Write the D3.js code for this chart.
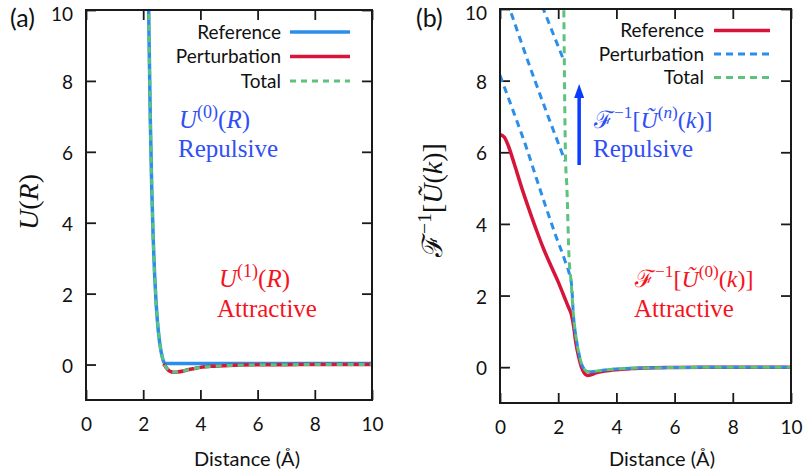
<!DOCTYPE html>
<html><head><meta charset="utf-8">
<script src="https://cdn.jsdelivr.net/npm/d3@7"></script>
<style>body{margin:0;background:#fff} svg{display:block}</style>
</head><body><svg id="c" width="805" height="472"></svg>
<script>
// ---------- data ----------
const xTicks = [0, 2, 4, 6, 8, 10];
const yTicks = [0, 2, 4, 6, 8, 10];
const legendLabels = ["Reference", "Perturbation", "Total"];
const xTitle = "Distance (Å)";

// Panel (a)
const refA_R  = [2.15, 2.20, 2.25, 2.30, 2.35, 2.40, 2.45, 2.50, 2.55, 2.60, 2.65, 2.70, 2.75, 2.80, 4, 6, 8, 10];
const refA_U  = [13.0, 9.45, 6.85, 4.94, 3.54, 2.52, 1.76, 1.20, 0.79, 0.49, 0.27, 0.11, 0.04, 0.03, 0.03, 0.03, 0.03, 0.03];
const pertA_R = [2.71, 2.75, 2.8, 2.9, 3.0, 3.1, 3.2, 3.4, 3.6, 3.8, 4.0, 4.5, 5, 6, 7, 8, 10];
const pertA_U = [0.02, -0.02, -0.08, -0.17, -0.21, -0.22, -0.21, -0.18, -0.14, -0.11, -0.08, -0.045, -0.025, -0.008, -0.003, -0.001, 0];
const totA_R  = [2.15, 2.20, 2.25, 2.30, 2.35, 2.40, 2.45, 2.50, 2.55, 2.60, 2.65, 2.70, 2.75, 2.8, 2.9, 3.0, 3.1, 3.2, 3.4, 3.6, 3.8, 4.0, 4.5, 5, 6, 7, 8, 10];
const totA_U  = [13.0, 9.45, 6.85, 4.94, 3.54, 2.52, 1.76, 1.20, 0.79, 0.49, 0.27, 0.11, -0.02, -0.08, -0.17, -0.21, -0.22, -0.21, -0.18, -0.14, -0.11, -0.08, -0.045, -0.025, -0.008, -0.003, -0.001, 0];

// Panel (b)
const refB_R  = [0, 0.15, 0.3, 0.5, 0.75, 1.0, 1.25, 1.5, 1.75, 2.0, 2.2, 2.35, 2.46, 2.52, 2.6, 2.7, 2.8, 2.9, 3.0, 3.1, 3.3, 3.6, 4.0, 4.5, 5, 6, 7, 8, 10];
const refB_U  = [6.5, 6.42, 6.15, 5.65, 5.0, 4.4, 3.83, 3.3, 2.83, 2.38, 1.98, 1.68, 1.45, 1.2, 0.72, 0.3, 0.0, -0.17, -0.23, -0.22, -0.16, -0.11, -0.07, -0.04, -0.02, -0.01, -0.004, -0.002, 0];
const pertB1_R = [0, 0.5, 0.92, 1.2, 1.54, 1.89, 2.23, 2.4, 2.46, 2.52, 2.63, 2.72, 2.8, 2.9, 3.0, 3.1, 3.3, 3.6, 4.0, 4.5, 5, 6, 7, 8, 10];
const pertB1_U = [8.15, 7.05, 6.1, 5.4, 4.56, 3.73, 2.98, 2.55, 2.3, 1.49, 0.75, 0.35, 0.1, -0.06, -0.12, -0.13, -0.11, -0.08, -0.05, -0.03, -0.02, -0.01, -0.004, -0.002, 0];
const pertB2_R = [0.25, 1.2, 2.24];
const pertB2_U = [10.2, 8.0, 5.75];
const pertB3_R = [1.45, 2.2];
const pertB3_U = [10.08, 8.55];
const totB_R  = [2.19, 2.21, 2.25, 2.3, 2.37, 2.44, 2.52, 2.63, 2.72, 2.8, 2.9, 3.0, 3.1, 3.3, 3.6, 4.0, 4.5, 5, 6, 7, 8, 10];
const totB_U  = [10.3, 8.55, 5.9, 5.0, 3.1, 2.42, 1.49, 0.75, 0.35, 0.1, -0.06, -0.12, -0.13, -0.11, -0.08, -0.05, -0.03, -0.02, -0.01, -0.004, -0.002, 0];

// ---------- styles ----------
const BLUE = "#2a8fea", RED = "#d7153b", GREEN = "#5cc27c";
const TXT_BLUE = "#2f4ff5", TXT_RED = "#f5141e", ARROW = "#0a3cff";
const SANS = "Lato, 'Open Sans', sans-serif";
const SERIF = "'Liberation Serif', 'DejaVu Serif', serif";
const SCRIPT = "'DejaVu Serif', serif";

const svg = d3.select("#c");

function zip(xs, ys) { return xs.map((x, i) => [x, ys[i]]); }

function panel(cfg) {
  const x = d3.scaleLinear().domain([0, 10]).range([cfg.left, cfg.right]);
  const y = d3.scaleLinear().domain([-1, 10]).range([cfg.bottom, cfg.top]);
  const g = svg.append("g");
  const clipId = "clip" + cfg.id;
  svg.append("clipPath").attr("id", clipId).append("rect")
    .attr("x", cfg.left).attr("y", cfg.top)
    .attr("width", cfg.right - cfg.left).attr("height", cfg.bottom - cfg.top);

  const tickLen = 10;
  const styleAxis = sel => {
    sel.select(".domain").remove();
    sel.selectAll(".tick line").attr("stroke", "#1a1a1a").attr("stroke-width", 1.8);
    sel.selectAll(".tick text").attr("font-family", SANS).attr("font-size", 19).attr("fill", "#111");
  };
  g.append("g").attr("transform", `translate(0,${cfg.bottom})`)
    .call(d3.axisBottom(x).tickValues(xTicks).tickFormat(d3.format("d")).tickSize(-tickLen).tickPadding(18).tickSizeOuter(0))
    .call(styleAxis);
  g.append("g").attr("transform", `translate(0,${cfg.top})`)
    .call(d3.axisTop(x).tickValues(xTicks).tickFormat("").tickSize(-tickLen).tickSizeOuter(0))
    .call(styleAxis);
  const yAx = g.append("g").attr("transform", `translate(${cfg.left},0)`)
    .call(d3.axisLeft(y).tickValues(yTicks).tickFormat(d3.format("d")).tickSize(-tickLen).tickPadding(13).tickSizeOuter(0))
    .call(styleAxis);
  yAx.selectAll(".tick text").attr("dy", d => d === 10 ? "0.55em" : "0.4em");
  g.append("g").attr("transform", `translate(${cfg.right},0)`)
    .call(d3.axisRight(y).tickValues(yTicks).tickFormat("").tickSize(-tickLen).tickSizeOuter(0))
    .call(styleAxis);

  const line = d3.line().x(d => x(d[0])).y(d => y(d[1])).curve(d3.curveMonotoneX);
  const lines = g.append("g").attr("clip-path", `url(#${clipId})`);
  cfg.series.forEach(s => {
    s.data.forEach(d => {
      lines.append("path").attr("d", line(d))
        .attr("fill", "none").attr("stroke", s.color)
        .attr("stroke-width", s.width)
        .attr("stroke-dasharray", s.dash || null)
        .attr("stroke-linejoin", "round");
    });
  });

  g.append("rect").attr("x", cfg.left).attr("y", cfg.top)
    .attr("width", cfg.right - cfg.left).attr("height", cfg.bottom - cfg.top)
    .attr("fill", "none").attr("stroke", "#1a1a1a").attr("stroke-width", 2);

  // legend
  cfg.legend.forEach((s, i) => {
    const ly = cfg.legY + i * cfg.legStep;
    g.append("text").attr("x", cfg.legTextX).attr("y", ly).attr("dy", "0.35em")
      .attr("text-anchor", "end").attr("font-family", SANS).attr("font-size", 19)
      .attr("fill", "#111").text(legendLabels[i]);
    g.append("line").attr("x1", cfg.legX1).attr("x2", cfg.legX2).attr("y1", ly).attr("y2", ly)
      .attr("stroke", s.color).attr("stroke-width", s.width).attr("stroke-dasharray", s.dash || null);
  });

  // x title
  g.append("text").attr("x", cfg.xTitleX).attr("y", 466).attr("text-anchor", "middle")
    .attr("font-family", SANS).attr("font-size", 20).attr("fill", "#111").text(xTitle);
  // panel label
  g.append("text").attr("x", cfg.labX).attr("y", 27).attr("font-family", SANS)
    .attr("font-size", 25).attr("fill", "#111").text(cfg.label);
  return {x, y, g};
}

// math text helper: parts = [text, italic?, shift(em), sizeFactor, family]
function mathText(parent, x, y, size, color, parts, anchor) {
  const t = parent.append("text").attr("x", x).attr("y", y)
    .attr("font-family", SERIF).attr("font-size", size).attr("fill", color)
    .attr("text-anchor", anchor || "start");
  let cur = 0;
  parts.forEach(p => {
    const shift = p[2] || 0;
    const ts = t.append("tspan").text(p[0])
      .attr("font-style", p[1] ? "italic" : "normal")
      .attr("dy", (cur - shift) * size);
    if (p[3]) ts.attr("font-size", p[3] * size);
    if (p[4]) ts.attr("font-family", p[4]);
    cur = shift;
  });
  return t;
}
const SUP = 0.42, SUPS = 0.72;

// ---------- panel (a) ----------
const A = panel({
  id: "a", left: 86, right: 372, top: 10, bottom: 400,
  label: "(a)", labX: 10, xTitleX: 247,
  legY: 32, legStep: 24.5, legTextX: 281, legX1: 290, legX2: 350,
  series: [
    {color: BLUE, width: 3.5, data: [zip(refA_R, refA_U)]},
    {color: RED, width: 3.5, data: [zip(pertA_R, pertA_U)]},
    {color: GREEN, width: 3, dash: "6,5", data: [zip(totA_R, totA_U)]}
  ],
  legend: [{color: BLUE, width: 3.5}, {color: RED, width: 3.5}, {color: GREEN, width: 3, dash: "6,5"}]
});

// y title (a)
mathText(svg.append("g").attr("transform", "translate(38,202) rotate(-90)"), 0, 0, 28, "#111",
  [["U", true], ["(", false], ["R", true], [")", false]], "middle");

mathText(svg, 179, 128, 25, TXT_BLUE, [["U", true], ["(0)", false, SUP, SUPS], ["(", false, 0], ["R", true], [")", false]]);
svg.append("text").attr("x", 178).attr("y", 157).attr("font-family", SERIF).attr("font-size", 25)
  .attr("fill", TXT_BLUE).text("Repulsive");
mathText(svg, 219, 287, 25, TXT_RED, [["U", true], ["(1)", false, SUP, SUPS], ["(", false, 0], ["R", true], [")", false]]);
svg.append("text").attr("x", 217).attr("y", 317).attr("font-family", SERIF).attr("font-size", 25)
  .attr("fill", TXT_RED).text("Attractive");

// ---------- panel (b) ----------
const B = panel({
  id: "b", left: 500, right: 791, top: 9, bottom: 403,
  label: "(b)", labX: 416, xTitleX: 662,
  legY: 30.5, legStep: 23.5, legTextX: 704, legX1: 714, legX2: 770,
  series: [
    {color: RED, width: 3.5, data: [zip(refB_R, refB_U)]},
    {color: BLUE, width: 3, dash: "7,5", data: [zip(pertB1_R, pertB1_U), zip(pertB2_R, pertB2_U), zip(pertB3_R, pertB3_U)]},
    {color: GREEN, width: 3, dash: "7,5", data: [zip(totB_R, totB_U)]}
  ],
  legend: [{color: RED, width: 3.5}, {color: BLUE, width: 3, dash: "7,5"}, {color: GREEN, width: 3, dash: "7,5"}]
});

// y title (b)
mathText(svg.append("g").attr("transform", "translate(442,200) rotate(-90)"), 0, 0, 28, "#111",
  [["ℱ", false, 0, 1, SCRIPT], ["−1", false, 0.4, 0.7], ["[", false, 0], ["Ũ", true], ["(", false], ["k", true], [")]", false]], "middle");

// arrow
const arrowX = B.x(2.72);
svg.append("line").attr("x1", arrowX).attr("x2", arrowX).attr("y1", 165).attr("y2", 96)
  .attr("stroke", ARROW).attr("stroke-width", 3.5);
svg.append("path").attr("d", `M${arrowX},84 L${arrowX - 5},98 L${arrowX + 5},98 Z`).attr("fill", ARROW);

mathText(svg, 594, 128, 24, TXT_BLUE,
  [["ℱ", false, 0, 1, SCRIPT], ["−1", false, SUP, SUPS], ["[", false, 0], ["Ũ", true], ["(", false, SUP, SUPS], ["n", true, SUP, SUPS], [")", false, SUP, SUPS], ["(", false, 0], ["k", true], [")]", false]]);
svg.append("text").attr("x", 593).attr("y", 157).attr("font-family", SERIF).attr("font-size", 25)
  .attr("fill", TXT_BLUE).text("Repulsive");
mathText(svg, 635, 287, 24, TXT_RED,
  [["ℱ", false, 0, 1, SCRIPT], ["−1", false, SUP, SUPS], ["[", false, 0], ["Ũ", true], ["(0)", false, SUP, SUPS], ["(", false, 0], ["k", true], [")]", false]]);
svg.append("text").attr("x", 634).attr("y", 317).attr("font-family", SERIF).attr("font-size", 25)
  .attr("fill", TXT_RED).text("Attractive");
</script></body></html>
